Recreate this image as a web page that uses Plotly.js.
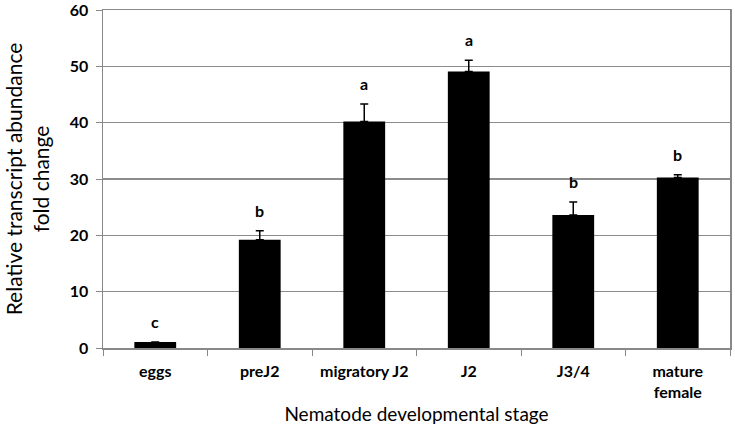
<!DOCTYPE html>
<html>
<head>
<meta charset="utf-8">
<script src="https://cdn.plot.ly/plotly-3.0.1.min.js"></script>
<style>html,body{margin:0;padding:0;background:#fff;}#chart{width:735px;height:440px;}</style>
</head>
<body>
<div id="chart"></div>
<script>
const categories = ["eggs", "preJ2", "migratory J2", "J2", "J3/4", "mature<br>female"];
const values = [1.05, 19.2, 40.2, 49.1, 23.6, 30.25];
const errors = [0, 1.6, 3.1, 2.0, 2.3, 0.5];
const letters = ["c", "b", "a", "a", "b", "b"];

const trace = {
  type: "bar",
  x: categories,
  y: values,
  width: 0.4,
  marker: {color: "#000000", line: {width: 0}},
  error_y: {type: "data", array: errors, symmetric: false, arrayminus: errors.map(() => 0), color: "#000", thickness: 1.5, width: 4},
  hoverinfo: "none"
};

const annotations = categories.map((c, i) => ({
  x: c, y: values[i] + errors[i], xref: "x", yref: "y",
  text: "<b>" + letters[i] + "</b>", showarrow: false,
  yanchor: "bottom", yshift: 9,
  font: {family: "Lato, 'Open Sans', sans-serif", size: 16, color: "#000"}
}));

const layout = {
  width: 735, height: 440,
  margin: {l: 103, r: 5, t: 10, b: 92},
  paper_bgcolor: "#fff", plot_bgcolor: "#fff",
  showlegend: false,
  font: {family: "Lato, 'Open Sans', sans-serif", color: "#000"},
  xaxis: {
    type: "category",
    tickson: "boundaries",
    ticks: "outside", ticklen: 6, tickcolor: "#888", tickwidth: 1,
    showline: true, linecolor: "#888", linewidth: 1.5, mirror: true,
    showgrid: false,
    ticklabelstandoff: 8,
    tickfont: {size: 16, color: "#000", weight: "bold"},
    title: {text: "Nematode developmental stage", font: {size: 19, color: "#000"}, standoff: 8}
  },
  yaxis: {
    range: [0, 60], dtick: 10,
    ticks: "outside", ticklen: 6, tickcolor: "#888", tickwidth: 1,
    showline: true, linecolor: "#888", linewidth: 1.5, mirror: true,
    showgrid: true, gridcolor: "#8c8c8c", gridwidth: 1.2,
    zeroline: false,
    ticklabelstandoff: 4,
    ticklabeloverflow: "allow",
    tickfont: {size: 16, color: "#000", weight: "bold"},
    title: {text: "Relative transcript abundance<br>fold change", font: {size: 21, color: "#000"}, standoff: 14}
  },
  annotations: annotations
};

Plotly.newPlot("chart", [trace], layout, {staticPlot: true, displayModeBar: false});
</script>
</body>
</html>
